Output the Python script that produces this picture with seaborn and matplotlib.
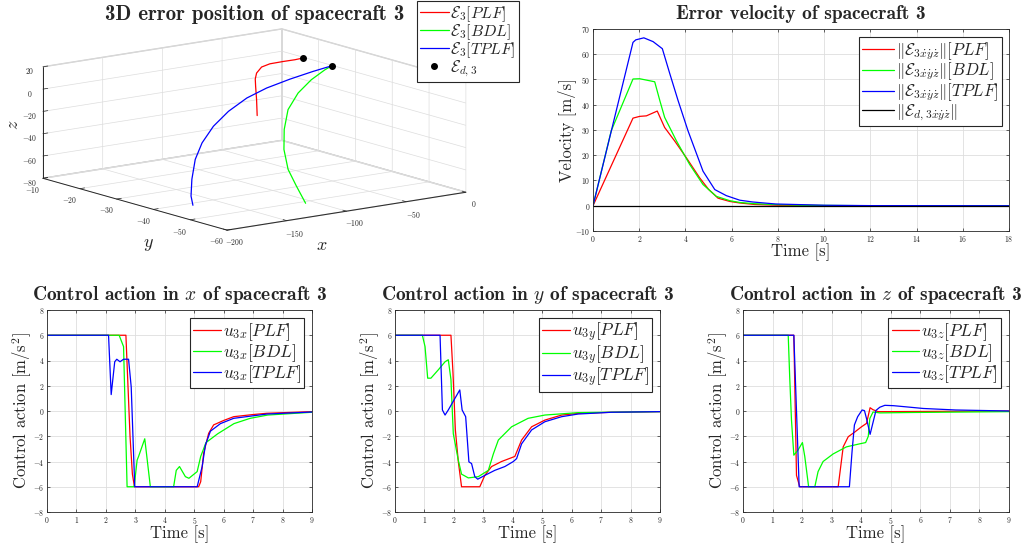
import numpy as np
import matplotlib
matplotlib.use('Agg')
import matplotlib.pyplot as plt
import seaborn as sns

# =========================
# DATA
# =========================
# 3D error position of spacecraft 3
pos_plf_x = [-79.2, -79.7, -80.5, -80.8, -79.7, -75.5, -68.6, -57.5, -47.7, -40.8]
pos_plf_y = [-29.0, -29.0, -29.0, -29.0, -29.0, -29.0, -29.0, -29.0, -29.0, -29.0]
pos_plf_z = [-26.6, -12.2, -0.2, 6.5, 11.6, 16.3, 18.0, 18.2, 18.1, 18.5]

pos_bdl_x = [-121.9, -122.9, -123.3, -120.0, -113.3, -103.3, -88.4, -70.6, -52.8, -40.1]
pos_bdl_y = [-56.0, -53.8, -51.7, -49.5, -47.4, -45.2, -43.1, -40.9, -38.8, -36.6]
pos_bdl_z = [-72.9, -59.2, -46.3, -31.0, -16.2, -2.1, 8.3, 15.1, 19.0, 18.5]

pos_tplf_x = [-191.6, -190.1, -186.0, -180.1, -171.3, -158.4, -142.7, -124.2, -104.3, -81.7, -59.2, -40.1]
pos_tplf_y = [-48.0, -47.0, -45.9, -44.9, -43.9, -42.8, -41.8, -40.8, -39.7, -38.7, -37.6, -36.6]
pos_tplf_z = [-70.3, -63.2, -49.9, -34.0, -21.6, -9.9, -0.1, 7.8, 12.3, 15.5, 17.5, 18.5]

pos_d_x = [-40.8, -40.1]
pos_d_y = [-29.0, -36.6]
pos_d_z = [18.5, 18.5]

# error velocity norm
t_vel_plf = [0, 1.73, 2.02, 2.31, 2.78, 3.1, 3.53, 4.04, 4.62, 5.0, 5.41, 5.92, 6.35, 7.0, 8.0, 10.0, 12.0, 18.0]
vel_plf = [0, 34.7, 35.4, 35.6, 37.5, 31.0, 25.7, 19.0, 11.0, 6.5, 3.0, 1.7, 1.1, 0.5, 0.2, 0.05, 0.0, 0.0]
t_vel_bdl = [0, 0.79, 1.73, 2.02, 2.67, 2.89, 3.1, 3.61, 4.18, 4.76, 5.34, 5.92, 6.35, 7.0, 7.8, 9.0, 12.0, 18.0]
vel_bdl = [0, 29.7, 50.2, 50.3, 49.1, 41.7, 35.0, 25.7, 16.4, 8.4, 3.7, 2.0, 1.3, 0.8, 0.5, 0.2, 0.02, 0]
t_vel_tplf = [0, 1.73, 1.85, 2.2, 2.6, 3.0, 3.32, 3.68, 4.11, 4.76, 5.27, 5.77, 6.35, 6.9, 7.9, 10.0, 12.0, 18.0]
vel_tplf = [0, 64.7, 65.7, 66.5, 65.0, 62.2, 52.4, 41.7, 29.7, 13.7, 6.4, 4.0, 2.2, 1.5, 0.7, 0.2, 0.05, 0]
t_vel_d = [0, 18]
vel_d = [0, 0]

# control action x
t_ux_plf = [0, 2.68, 2.75, 2.82, 2.9, 2.97, 5.15, 5.22, 5.32, 5.49, 5.66, 6.0, 6.34, 7.0, 7.47, 9.0]
ux_plf = [6, 6, 2, -2, -5, -6, -6, -5.6, -3.35, -1.77, -1.1, -0.75, -0.45, -0.28, -0.18, -0.05]
t_ux_bdl = [0, 2.45, 2.6, 2.72, 2.96, 3.06, 3.11, 3.32, 3.51, 4.3, 4.39, 4.5, 4.7, 4.82, 5.1, 5.22, 5.4, 5.8, 6.35, 6.9, 7.5, 9.0]
ux_bdl = [6, 6, 5.1, -6, -6, -3.9, -3.6, -2.2, -6, -6, -4.7, -4.4, -5.2, -5.33, -4.8, -3.6, -2.5, -1.8, -1.0, -0.58, -0.32, -0.1]
t_ux_tplf = [0, 2.09, 2.18, 2.3, 2.37, 2.48, 2.6, 2.77, 2.86, 2.98, 5.1, 5.27, 5.38, 5.55, 5.89, 6.34, 7.47, 9.0]
ux_tplf = [6, 6, 1.3, 3.9, 4.1, 3.9, 4.1, 4.1, 1.9, -6, -6, -4.4, -2.7, -1.6, -1.0, -0.58, -0.24, -0.08]

# control action y
t_uy_plf = [0, 1.9, 1.97, 2.05, 2.15, 2.26, 2.88, 3.05, 3.28, 3.62, 4.07, 4.3, 4.64, 5.09, 5.66, 6.22, 7.35, 9.0]
uy_plf = [6, 6, 3, -1.5, -4, -6, -6, -5.1, -4.4, -4.0, -3.6, -2.3, -1.25, -0.72, -0.32, -0.19, -0.1, -0.05]
t_uy_bdl = [0, 0.93, 1.02, 1.11, 1.22, 1.47, 1.7, 1.81, 1.9, 1.98, 2.15, 2.26, 2.49, 2.83, 3.17, 3.34, 3.51, 3.96, 4.52, 5.09, 6.22, 9.0]
uy_bdl = [6, 6, 5.1, 2.6, 2.6, 3.26, 3.9, 4.06, 2.5, -1.8, -3.9, -5.0, -5.3, -5.2, -4.7, -3.4, -2.3, -1.25, -0.58, -0.32, -0.13, -0.05]
t_uy_tplf = [0, 1.53, 1.61, 1.7, 1.81, 2.2, 2.28, 2.4, 2.51, 2.6, 2.71, 2.81, 3.05, 3.39, 3.73, 4.02, 4.13, 4.3, 4.64, 5.09, 5.66, 6.22, 7.35, 9.0]
uy_tplf = [6, 6, 0.08, -0.32, 0.08, 1.67, 0.08, -0.45, -4.03, -4.16, -5.2, -5.4, -5.1, -4.7, -4.4, -4.0, -3.77, -2.6, -1.5, -0.85, -0.45, -0.24, -0.1, -0.05]

# control action z
t_uz_plf = [0, 1.72, 1.81, 1.92, 3.22, 3.39, 3.56, 3.79, 4.01, 4.18, 4.3, 4.4, 4.57, 5.0, 9.0]
uz_plf = [6, 6, -5.1, -6, -6, -2.84, -2.04, -1.65, -1.25, -0.98, 0.26, 0.1, -0.05, -0.05, 0]
t_uz_bdl = [0, 1.53, 1.58, 1.64, 1.72, 1.86, 2.01, 2.09, 2.22, 2.43, 2.54, 2.71, 3.05, 3.5, 3.95, 4.15, 4.24, 4.29, 4.4, 4.63, 5.65, 9.0]
uz_bdl = [6, 6, 2.7, -0.7, -3.5, -3.1, -2.5, -3.6, -6, -6, -4.8, -4.0, -3.4, -2.84, -2.6, -2.5, -2.0, -0.6, -0.08, -0.15, -0.12, -0.05]
t_uz_tplf = [0, 1.72, 1.9, 3.6, 3.69, 3.77, 3.88, 4.03, 4.11, 4.19, 4.3, 4.4, 4.5, 4.63, 4.8, 5.1, 5.65, 6.1, 7.2, 9.0]
uz_tplf = [6, 6, -6, -6, -3.2, -1.1, -0.45, 0.08, 0.03, -0.7, -1.85, -0.9, 0.05, 0.3, 0.45, 0.42, 0.3, 0.2, 0.08, 0.0]

methods = ['PLF', 'BDL', 'TPLF']
colors = {'PLF': '#ff0000', 'BDL': '#00ff00', 'TPLF': '#0000ff'}

# =========================
# STYLE
# =========================
sns.set_theme(style='whitegrid')
plt.rcParams.update({
    'font.family': 'serif',
    'font.serif': ['cmr10'],
    'mathtext.fontset': 'cm',
    'axes.formatter.use_mathtext': True,
    'axes.unicode_minus': True,
    'xtick.direction': 'in', 'ytick.direction': 'in',
    'xtick.top': True, 'ytick.right': True,
    'xtick.bottom': True, 'ytick.left': True,
    'xtick.major.size': 2.5, 'ytick.major.size': 2.5,
    'xtick.major.width': 0.5, 'ytick.major.width': 0.5,
    'xtick.major.pad': 2, 'ytick.major.pad': 2,
    'xtick.labelsize': 5.5, 'ytick.labelsize': 5.5,
    'xtick.color': '#262626', 'ytick.color': '#262626',
    'axes.edgecolor': '#262626', 'axes.linewidth': 0.6,
    'axes.facecolor': 'white',
    'grid.color': '#dedede', 'grid.linewidth': 0.6,
    'axes.labelcolor': '#262626',
})

W, H = 1029, 550
fig = plt.figure(figsize=(W / 100, H / 100), dpi=100)
TITLE_FS = 14


def px_axes(x0, y0, x1, y1, **kw):
    return fig.add_axes([x0 / W, 1 - y1 / H, (x1 - x0) / W, (y1 - y0) / H], **kw)


def style_2d(ax, xlab, ylab, title):
    ax.grid(True)
    ax.set_xlabel(xlab, fontsize=12, labelpad=0)
    ax.set_ylabel(ylab, fontsize=12, labelpad=-1)
    ax.set_title(title, fontsize=TITLE_FS, family='cmb10', pad=7)
    for s in ax.spines.values():
        s.set_color('#262626')
        s.set_linewidth(0.6)


def legend_2d(ax, labels, hl, fs):
    leg = ax.legend(labels=labels, handles=ax.get_lines()[:len(labels)], loc='upper right',
                    fontsize=fs, frameon=True, fancybox=False, framealpha=1,
                    edgecolor='#262626', borderpad=0.2, labelspacing=-0.05,
                    handlelength=hl, handletextpad=0.1, borderaxespad=0.45)
    leg.get_frame().set_linewidth(0.8)


# =========================
# 3D ERROR POSITION
# =========================
ax3 = fig.add_axes([0.1225, 0.5311, 250 / W, 250 / H], projection='3d', proj_type='ortho')
ax3.set_box_aspect((300, 308, 114.6), zoom=1.72)
ax3.view_init(elev=12.2, azim=-126.9)
ax3.plot(pos_plf_x, pos_plf_y, pos_plf_z, color=colors['PLF'], lw=0.9, label=r'$\mathcal{E}_3[PLF]$')
ax3.plot(pos_bdl_x, pos_bdl_y, pos_bdl_z, color=colors['BDL'], lw=0.9, label=r'$\mathcal{E}_3[BDL]$')
ax3.plot(pos_tplf_x, pos_tplf_y, pos_tplf_z, color=colors['TPLF'], lw=0.9, label=r'$\mathcal{E}_3[TPLF]$')
ax3.plot(pos_d_x, pos_d_y, pos_d_z, 'o', color='black', ms=4, ls='none', label=r'$\mathcal{E}_{d,3}$')
ax3.set_xlim(-200, 0)
ax3.set_ylim(-60, -10)
ax3.set_zlim(-80, 20)
ax3.set_xticks([-200, -150, -100, -50, 0])
ax3.set_yticks([-60, -50, -40, -30, -20, -10])
ax3.set_zticks([-80, -60, -40, -20, 0, 20])
ax3.tick_params(labelsize=5.5, pad=-4)
ax3.tick_params(axis='z', pad=-5)
for axis in (ax3.xaxis, ax3.yaxis, ax3.zaxis):
    axis.set_pane_color((1, 1, 1, 1))
    axis.pane.set_edgecolor('#cccccc')
    axis.line.set_color('#262626')
    axis.line.set_linewidth(0.7)
    axis._axinfo['grid'].update(color='#dddddd', linewidth=0.5)
    axis._axinfo['tick'].update(inward_factor=0.0, outward_factor=0.25)
# axis labels placed where the reference shows them
fig.text(322 / W, 1 - 245 / H, r'$x$', fontsize=13, ha='center', va='center')
fig.text(148 / W, 1 - 245 / H, r'$y$', fontsize=13, ha='center', va='center')
fig.text(13 / W, 1 - 125 / H, r'$z$', fontsize=13, ha='center', va='center', rotation=90)
fig.text(254.5 / W, 1 - 15 / H, '3D error position of spacecraft 3', fontsize=15,
         family='cmb10', ha='center', va='center')
leg3 = ax3.legend(loc='upper right', bbox_to_anchor=(519 / W, 1 - 1 / H), bbox_transform=fig.transFigure,
                  fontsize=11.5, frameon=True, fancybox=False, framealpha=1, edgecolor='#262626',
                  borderpad=0.2, labelspacing=-0.1, handlelength=1.8, handletextpad=0.1,
                  borderaxespad=0)
leg3.get_frame().set_linewidth(0.8)

# =========================
# ERROR VELOCITY
# =========================
axv = px_axes(593, 29, 1009, 231)
sns.lineplot(x=t_vel_plf, y=vel_plf, ax=axv, color=colors['PLF'], lw=0.9)
sns.lineplot(x=t_vel_bdl, y=vel_bdl, ax=axv, color=colors['BDL'], lw=0.9)
sns.lineplot(x=t_vel_tplf, y=vel_tplf, ax=axv, color=colors['TPLF'], lw=0.9)
sns.lineplot(x=t_vel_d, y=vel_d, ax=axv, color='black', lw=0.9)
axv.set_xlim(0, 18)
axv.set_ylim(-10, 70)
axv.set_xticks(np.arange(0, 19, 2))
axv.set_yticks(np.arange(-10, 71, 10))
style_2d(axv, 'Time [s]', 'Velocity [m/s]', 'Error velocity of spacecraft 3')
vel_labels = [r'$\Vert\mathcal{E}_{3\dot{x}\dot{y}\dot{z}}\Vert[%s]$' % m for m in methods]
vel_labels.append(r'$\Vert\mathcal{E}_{d,3\dot{x}\dot{y}\dot{z}}\Vert$')
legend_2d(axv, vel_labels, 1.9, 12)

# =========================
# CONTROL ACTIONS
# =========================
ctrl = [
    ('x', (47, 310, 312, 512), [(t_ux_plf, ux_plf), (t_ux_bdl, ux_bdl), (t_ux_tplf, ux_tplf)]),
    ('y', (395, 310, 660, 512), [(t_uy_plf, uy_plf), (t_uy_bdl, uy_bdl), (t_uy_tplf, uy_tplf)]),
    ('z', (743, 310, 1009, 512), [(t_uz_plf, uz_plf), (t_uz_bdl, uz_bdl), (t_uz_tplf, uz_tplf)]),
]
for comp, box, series in ctrl:
    ax = px_axes(*box)
    for m, (tt, uu) in zip(methods, series):
        sns.lineplot(x=tt, y=uu, ax=ax, color=colors[m], lw=0.9)
    ax.set_xlim(0, 9)
    ax.set_ylim(-8, 8)
    ax.set_xticks(np.arange(0, 10, 1))
    ax.set_yticks(np.arange(-8, 9, 2))
    style_2d(ax, 'Time [s]', r'Control action [m/s$^2$]',
             r'Control action in $%s$ of spacecraft 3' % comp)
    legend_2d(ax, [r'$u_{3%s}[%s]$' % (comp, m) for m in methods], 1.6, 12.5)

fig.savefig('out.png', dpi=100)
